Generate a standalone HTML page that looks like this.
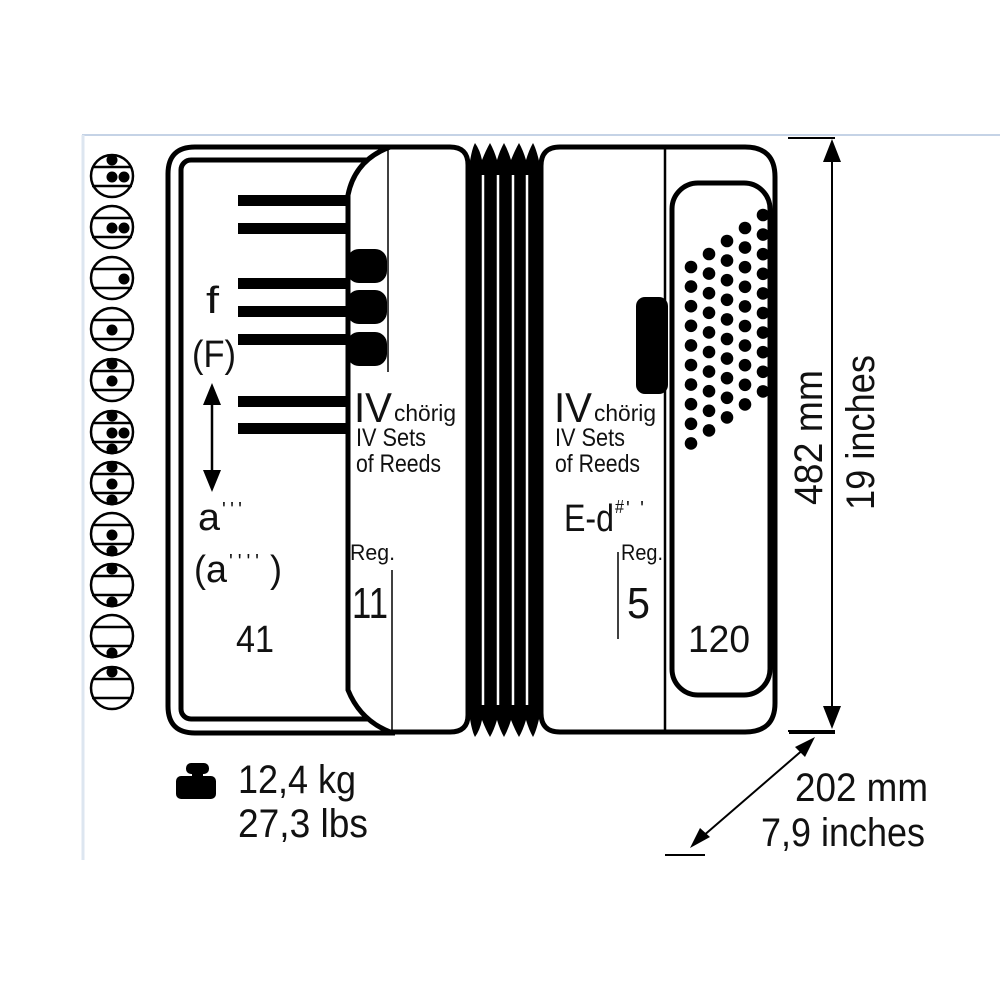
<!DOCTYPE html>
<html><head><meta charset="utf-8"><style>
html,body{margin:0;padding:0;background:#fff}
svg{display:block}
text{font-family:"Liberation Sans",sans-serif;fill:#111}
</style></head><body>
<svg width="1000" height="1000" viewBox="0 0 1000 1000" xmlns="http://www.w3.org/2000/svg">
<rect width="1000" height="1000" fill="#fff"/>
<line x1="82" y1="135" x2="1000" y2="135" stroke="#c5d3e6" stroke-width="2"/>
<line x1="83" y1="135" x2="83" y2="860" stroke="#dde6f0" stroke-width="3"/>

<g stroke="#000" stroke-width="2.5" fill="none">
<circle cx="112" cy="176" r="21"/><line x1="92" y1="167" x2="132" y2="167"/><line x1="92" y1="186" x2="132" y2="186"/>
<circle cx="112" cy="227" r="21"/><line x1="92" y1="218" x2="132" y2="218"/><line x1="92" y1="237" x2="132" y2="237"/>
<circle cx="112" cy="278" r="21"/><line x1="92" y1="269" x2="132" y2="269"/><line x1="92" y1="288" x2="132" y2="288"/>
<circle cx="112" cy="329" r="21"/><line x1="92" y1="320" x2="132" y2="320"/><line x1="92" y1="339" x2="132" y2="339"/>
<circle cx="112" cy="380" r="21"/><line x1="92" y1="371" x2="132" y2="371"/><line x1="92" y1="390" x2="132" y2="390"/>
<circle cx="112" cy="432" r="21"/><line x1="92" y1="423" x2="132" y2="423"/><line x1="92" y1="442" x2="132" y2="442"/>
<circle cx="112" cy="483" r="21"/><line x1="92" y1="474" x2="132" y2="474"/><line x1="92" y1="493" x2="132" y2="493"/>
<circle cx="112" cy="534" r="21"/><line x1="92" y1="525" x2="132" y2="525"/><line x1="92" y1="544" x2="132" y2="544"/>
<circle cx="112" cy="585" r="21"/><line x1="92" y1="576" x2="132" y2="576"/><line x1="92" y1="595" x2="132" y2="595"/>
<circle cx="112" cy="636" r="21"/><line x1="92" y1="627" x2="132" y2="627"/><line x1="92" y1="646" x2="132" y2="646"/>
<circle cx="112" cy="688" r="21"/><line x1="92" y1="679" x2="132" y2="679"/><line x1="92" y1="698" x2="132" y2="698"/>
</g>
<g fill="#000">
<circle cx="112" cy="160" r="5.5"/><circle cx="112" cy="177" r="5.5"/><circle cx="124" cy="177" r="5.5"/>
<circle cx="112" cy="228" r="5.5"/><circle cx="124" cy="228" r="5.5"/>
<circle cx="124" cy="279" r="5.5"/>
<circle cx="112" cy="330" r="5.5"/>
<circle cx="112" cy="364" r="5.5"/><circle cx="112" cy="381" r="5.5"/>
<circle cx="112" cy="416" r="5.5"/><circle cx="112" cy="433" r="5.5"/><circle cx="124" cy="433" r="5.5"/><circle cx="112" cy="449" r="5.5"/>
<circle cx="112" cy="467" r="5.5"/><circle cx="112" cy="484" r="5.5"/><circle cx="112" cy="500" r="5.5"/>
<circle cx="112" cy="535" r="5.5"/><circle cx="112" cy="551" r="5.5"/>
<circle cx="112" cy="569" r="5.5"/><circle cx="112" cy="602" r="5.5"/>
<circle cx="112" cy="653" r="5.5"/>
<circle cx="112" cy="672" r="5.5"/>
</g>

<path d="M395 147 H195 Q168 147 168 174 V706 Q168 733 195 733 H395" fill="#fff" stroke="#000" stroke-width="5"/>
<rect x="181" y="160" width="200" height="559" rx="10" fill="none" stroke="#000" stroke-width="5"/>
<g fill="#000">
<rect x="238" y="195" width="110" height="11"/>
<rect x="238" y="223" width="110" height="11"/>
<rect x="238" y="278" width="110" height="11"/>
<rect x="238" y="306" width="110" height="11"/>
<rect x="238" y="334" width="110" height="11"/>
<rect x="238" y="396" width="110" height="11"/>
<rect x="238" y="423" width="110" height="11"/>
</g>
<path d="M390 147 H450 Q468 147 468 165 V715 Q468 732 450 732 H390 Q360 720 348 690 V195 Q355 160 390 147 Z" fill="#fff" stroke="#000" stroke-width="5"/>
<line x1="388" y1="149" x2="388" y2="372" stroke="#000" stroke-width="1.5"/>
<line x1="392" y1="570" x2="392" y2="731" stroke="#000" stroke-width="1.5"/>
<g fill="#000">
<rect x="347" y="249" width="40" height="34" rx="12"/>
<rect x="347" y="290" width="40" height="34" rx="12"/>
<rect x="347" y="332" width="40" height="34" rx="12"/>
</g>

<path d="M468 175 Q471 150 475 143 Q480 150 482 160 Q486 150 490 143 Q494 150 497 160 Q500 150 504 143 Q508 150 511 160 Q515 150 519 143 Q523 150 526 160 Q529 150 533 143 Q537 150 541 170 V710 Q537 730 533 737 Q529 730 526 720 Q523 730 519 737 Q515 730 511 720 Q508 730 504 737 Q500 730 497 720 Q494 730 490 737 Q486 730 482 720 Q480 730 475 737 Q471 730 468 705 Z" fill="#000"/>
<g stroke="#fff" stroke-width="2.5">
<line x1="483" y1="175" x2="483" y2="705"/>
<line x1="498" y1="175" x2="498" y2="705"/>
<line x1="513" y1="175" x2="513" y2="705"/>
<line x1="527" y1="175" x2="527" y2="705"/>
</g>

<path d="M560 147 H745 Q775 147 775 177 V703 Q775 732 745 732 H560 Q541 732 541 713 V166 Q541 147 560 147 Z" fill="#fff" stroke="#000" stroke-width="5"/>
<line x1="665" y1="149" x2="665" y2="731" stroke="#000" stroke-width="2.5"/>
<rect x="672" y="183" width="98" height="512" rx="26" fill="#fff" stroke="#000" stroke-width="5"/>
<rect x="636" y="297" width="32" height="97" rx="9" fill="#000"/>
<g fill="#000">
<circle cx="763" cy="215" r="6.3"/><circle cx="763" cy="234.6" r="6.3"/><circle cx="763" cy="254.2" r="6.3"/><circle cx="763" cy="273.8" r="6.3"/><circle cx="763" cy="293.4" r="6.3"/><circle cx="763" cy="313" r="6.3"/><circle cx="763" cy="332.6" r="6.3"/><circle cx="763" cy="352.2" r="6.3"/><circle cx="763" cy="371.8" r="6.3"/><circle cx="763" cy="391.4" r="6.3"/>
<circle cx="745" cy="228" r="6.3"/><circle cx="745" cy="247.6" r="6.3"/><circle cx="745" cy="267.2" r="6.3"/><circle cx="745" cy="286.8" r="6.3"/><circle cx="745" cy="306.4" r="6.3"/><circle cx="745" cy="326" r="6.3"/><circle cx="745" cy="345.6" r="6.3"/><circle cx="745" cy="365.2" r="6.3"/><circle cx="745" cy="384.8" r="6.3"/><circle cx="745" cy="404.4" r="6.3"/>
<circle cx="727" cy="241" r="6.3"/><circle cx="727" cy="260.6" r="6.3"/><circle cx="727" cy="280.2" r="6.3"/><circle cx="727" cy="299.8" r="6.3"/><circle cx="727" cy="319.4" r="6.3"/><circle cx="727" cy="339" r="6.3"/><circle cx="727" cy="358.6" r="6.3"/><circle cx="727" cy="378.2" r="6.3"/><circle cx="727" cy="397.8" r="6.3"/><circle cx="727" cy="417.4" r="6.3"/>
<circle cx="709" cy="254" r="6.3"/><circle cx="709" cy="273.6" r="6.3"/><circle cx="709" cy="293.2" r="6.3"/><circle cx="709" cy="312.8" r="6.3"/><circle cx="709" cy="332.4" r="6.3"/><circle cx="709" cy="352" r="6.3"/><circle cx="709" cy="371.6" r="6.3"/><circle cx="709" cy="391.2" r="6.3"/><circle cx="709" cy="410.8" r="6.3"/><circle cx="709" cy="430.4" r="6.3"/>
<circle cx="691" cy="267" r="6.3"/><circle cx="691" cy="286.6" r="6.3"/><circle cx="691" cy="306.2" r="6.3"/><circle cx="691" cy="325.8" r="6.3"/><circle cx="691" cy="345.4" r="6.3"/><circle cx="691" cy="365" r="6.3"/><circle cx="691" cy="384.6" r="6.3"/><circle cx="691" cy="404.2" r="6.3"/><circle cx="691" cy="423.8" r="6.3"/><circle cx="691" cy="443.4" r="6.3"/>
</g>

<text x="206" y="313" font-size="38" textLength="13" lengthAdjust="spacingAndGlyphs">f</text>
<text x="192" y="367" font-size="38" textLength="44" lengthAdjust="spacingAndGlyphs">(F)</text>
<line x1="212" y1="400" x2="212" y2="475" stroke="#000" stroke-width="2.5"/>
<path d="M203 405 L212 383 L221 405 Z M203 470 L212 492 L221 470 Z" fill="#000"/>
<text x="198" y="530" font-size="38" textLength="22" lengthAdjust="spacingAndGlyphs">a</text>
<text x="222" y="516" font-size="20" textLength="20" lengthAdjust="spacing">'''</text>
<text x="194" y="582" font-size="38" textLength="12" lengthAdjust="spacingAndGlyphs">(</text>
<text x="206" y="582" font-size="38" textLength="21" lengthAdjust="spacingAndGlyphs">a</text>
<text x="229" y="568" font-size="20" textLength="30" lengthAdjust="spacing">''''</text>
<text x="270" y="582" font-size="38" textLength="12" lengthAdjust="spacingAndGlyphs">)</text>
<text x="236" y="652" font-size="38" textLength="38" lengthAdjust="spacingAndGlyphs">41</text>

<text x="354" y="422" font-size="42" textLength="38" lengthAdjust="spacingAndGlyphs">IV</text>
<text x="394" y="421" font-size="23" textLength="62" lengthAdjust="spacingAndGlyphs">chörig</text>
<text x="356" y="446" font-size="25" textLength="70" lengthAdjust="spacingAndGlyphs">IV Sets</text>
<text x="356" y="472" font-size="25" textLength="85" lengthAdjust="spacingAndGlyphs">of Reeds</text>
<text x="350" y="560" font-size="22" textLength="45" lengthAdjust="spacingAndGlyphs">Reg.</text>
<text x="352" y="618" font-size="44" textLength="36" lengthAdjust="spacingAndGlyphs">11</text>

<text x="554" y="422" font-size="42" textLength="38" lengthAdjust="spacingAndGlyphs">IV</text>
<text x="594" y="421" font-size="23" textLength="62" lengthAdjust="spacingAndGlyphs">chörig</text>
<text x="555" y="446" font-size="25" textLength="70" lengthAdjust="spacingAndGlyphs">IV Sets</text>
<text x="555" y="472" font-size="25" textLength="85" lengthAdjust="spacingAndGlyphs">of Reeds</text>
<text x="564" y="531" font-size="38" textLength="50" lengthAdjust="spacingAndGlyphs">E-d</text>
<text x="615" y="513" font-size="18" textLength="9" lengthAdjust="spacingAndGlyphs">#</text>
<text x="626" y="515" font-size="20" textLength="18" lengthAdjust="spacing">''</text>
<line x1="618" y1="552" x2="618" y2="639" stroke="#000" stroke-width="1.5"/>
<text x="621" y="560" font-size="22" textLength="42" lengthAdjust="spacingAndGlyphs">Reg.</text>
<text x="627" y="618" font-size="44" textLength="23" lengthAdjust="spacingAndGlyphs">5</text>
<text x="688" y="652" font-size="38" textLength="62" lengthAdjust="spacingAndGlyphs">120</text>

<line x1="788" y1="138" x2="835" y2="138" stroke="#000" stroke-width="2"/>
<line x1="788" y1="731" x2="835" y2="731" stroke="#000" stroke-width="2"/>
<line x1="832" y1="150" x2="832" y2="715" stroke="#000" stroke-width="2"/>
<path d="M823 162 L832 139 L841 162 Z M823 706 L832 729 L841 706 Z" fill="#000"/>
<text transform="translate(822,505) rotate(-90)" font-size="40" textLength="135" lengthAdjust="spacingAndGlyphs">482 mm</text>
<text transform="translate(874,510) rotate(-90)" font-size="40" textLength="155" lengthAdjust="spacingAndGlyphs">19 inches</text>

<line x1="789" y1="733" x2="835" y2="733" stroke="#000" stroke-width="2"/>
<line x1="665" y1="855" x2="705" y2="855" stroke="#000" stroke-width="2"/>
<line x1="805" y1="748" x2="702" y2="837" stroke="#000" stroke-width="2"/>
<path d="M815 737 L795 747 L805 757 Z M690 848 L710 837 L700 828 Z" fill="#000"/>
<text x="795" y="801" font-size="40" textLength="133" lengthAdjust="spacingAndGlyphs">202 mm</text>
<text x="761" y="846" font-size="40" textLength="164" lengthAdjust="spacingAndGlyphs">7,9 inches</text>

<rect x="186" y="763" width="23" height="11" rx="5" fill="#000"/>
<rect x="192" y="770" width="11" height="8" fill="#000"/>
<rect x="176" y="776" width="40" height="23" rx="5" fill="#000"/>
<text x="238" y="793" font-size="40" textLength="118" lengthAdjust="spacingAndGlyphs">12,4 kg</text>
<text x="238" y="837" font-size="40" textLength="130" lengthAdjust="spacingAndGlyphs">27,3 lbs</text>
</svg>
</body></html>
